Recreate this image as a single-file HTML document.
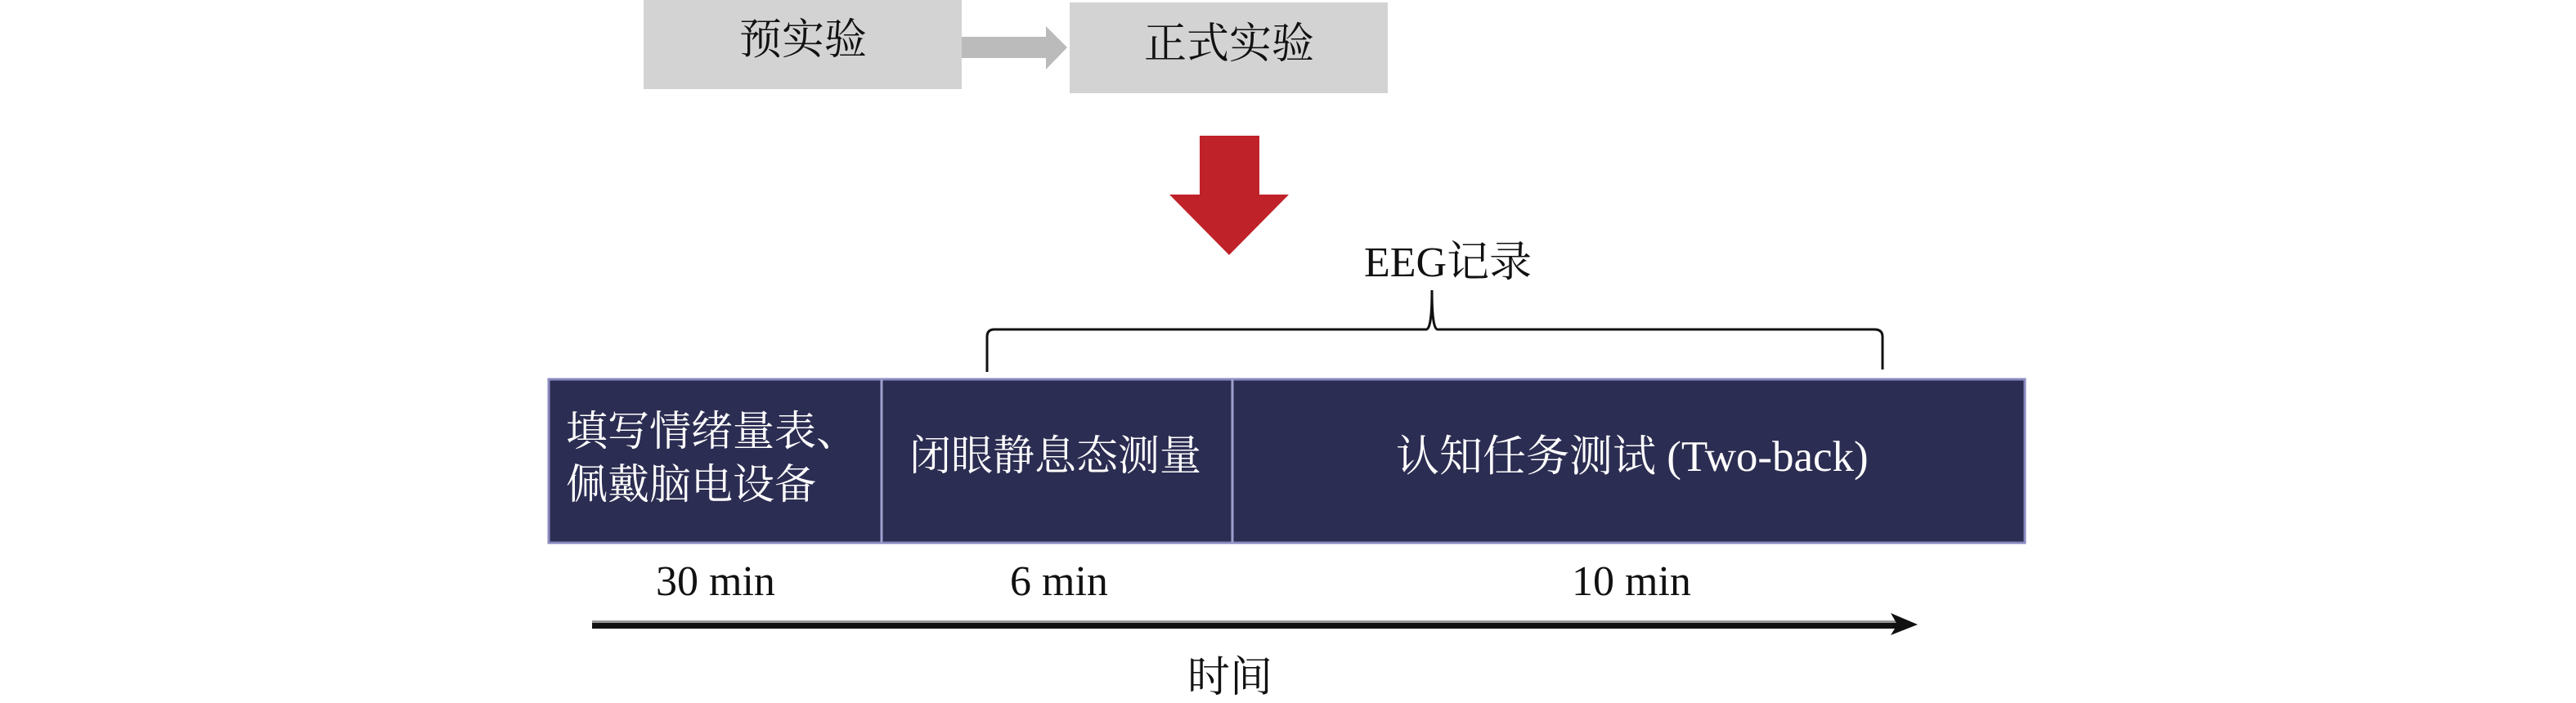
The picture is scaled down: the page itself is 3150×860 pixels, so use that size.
<!DOCTYPE html>
<html><head><meta charset="utf-8"><style>
html,body{margin:0;padding:0;background:#fff;}
body{width:3150px;height:855px;position:relative;overflow:hidden;font-family:"Liberation Serif","Noto Serif CJK SC",serif;}
.a{position:absolute;white-space:nowrap;}
.g{position:absolute;background:#d3d3d3;}
.w{color:#fff;font-size:51px;}
.k{color:#111;font-size:52px;}
</style></head><body>
<div class="g" style="left:787px;top:0;width:389px;height:109px;"></div>
<div class="g" style="left:1308px;top:3px;width:389px;height:111px;"></div>
<div class="a k" style="left:904px;top:20px;line-height:60px;">预实验</div>
<div class="a k" style="left:1399px;top:25px;line-height:60px;">正式实验</div>
<svg class="a" style="left:0;top:0" width="3150" height="855">
 <rect x="1176" y="45" width="105" height="26" fill="#bbbbbb"/>
 <polygon points="1279,32 1305,58 1279,85" fill="#bbbbbb"/>
 <rect x="1467" y="166" width="73" height="73" fill="#c0222a"/>
 <polygon points="1430,238 1576,238 1503,312" fill="#c0222a"/>
 <path d="M1207,455 L1207,412 Q1207,403 1216,403 L1744,403 Q1751,403 1751,355 Q1751,403 1758,403 L2292,403 Q2302,403 2302,412 L2302,452" fill="none" stroke="#111" stroke-width="3"/>
 <rect x="671" y="464" width="1805" height="200" fill="#2c2d52" stroke="#8a8ac0" stroke-width="3"/>
 <line x1="1078" y1="464" x2="1078" y2="664" stroke="#a0a0d0" stroke-width="3"/>
 <line x1="1507" y1="464" x2="1507" y2="664" stroke="#a0a0d0" stroke-width="3"/>
 <rect x="724" y="759" width="1600" height="3" fill="#999"/>
 <rect x="724" y="762" width="1600" height="7" fill="#111"/>
 <polygon points="2312,750 2345,764 2312,777 2320,764" fill="#111"/>
</svg>
<div class="a" style="left:1668px;top:292px;font-size:52px;color:#111;line-height:60px;">EEG记录</div>
<div class="a w" style="left:692px;top:497px;line-height:65px;">填写情绪量表、<br>佩戴脑电设备</div>
<div class="a w" style="left:1112px;top:529px;line-height:60px;">闭眼静息态测量</div>
<div class="a w" style="left:1707px;top:529px;line-height:60px;font-size:53px;">认知任务测试 (Two-back)</div>
<div class="a k" style="left:802px;top:682px;line-height:60px;">30 min</div>
<div class="a k" style="left:1235px;top:682px;line-height:60px;">6 min</div>
<div class="a k" style="left:1922px;top:682px;line-height:60px;">10 min</div>
<div class="a k" style="left:1452px;top:800px;line-height:60px;">时间</div>
</body></html>
